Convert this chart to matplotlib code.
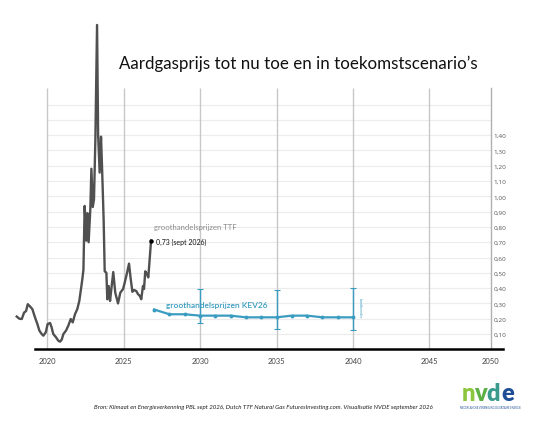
import numpy as np
import matplotlib.pyplot as plt

plt.rcParams['font.family'] = ['Lato', 'DejaVu Sans']

# historic wholesale price TTF (euro/m3)
ttf_year = [2018.02, 2018.19, 2018.35, 2018.5, 2018.63, 2018.74, 2018.89, 2019.04,
            2019.22, 2019.37, 2019.5, 2019.65, 2019.76, 2019.92, 2020.04, 2020.2,
            2020.3, 2020.41, 2020.59, 2020.74, 2020.85, 2020.96, 2021.07, 2021.24,
            2021.39, 2021.55, 2021.68, 2021.83, 2021.98, 2022.11, 2022.22, 2022.31,
            2022.38, 2022.46, 2022.57, 2022.64, 2022.72, 2022.83, 2022.9, 2022.99,
            2023.07, 2023.16, 2023.27, 2023.34, 2023.44, 2023.53, 2023.6, 2023.7,
            2023.77, 2023.88, 2023.94, 2024.03, 2024.12, 2024.2, 2024.33, 2024.46,
            2024.64, 2024.79, 2024.97, 2025.08, 2025.23, 2025.36, 2025.47, 2025.58,
            2025.69, 2025.84, 2025.95, 2026.06, 2026.16, 2026.27, 2026.34, 2026.42,
            2026.54, 2026.62, 2026.71, 2026.8]
ttf_price = [0.214, 0.200, 0.198, 0.240, 0.250, 0.295, 0.280, 0.263,
             0.207, 0.165, 0.122, 0.100, 0.089, 0.111, 0.165, 0.172,
             0.143, 0.100, 0.078, 0.056, 0.050, 0.063, 0.100, 0.122,
             0.154, 0.198, 0.176, 0.230, 0.263, 0.316, 0.394, 0.460,
             0.520, 0.937, 0.710, 0.890, 0.700, 0.916, 1.180, 0.930,
             0.980, 1.370, 2.120, 1.400, 1.155, 1.390, 1.180, 0.850,
             0.510, 0.500, 0.327, 0.414, 0.316, 0.390, 0.505, 0.370,
             0.300, 0.370, 0.394, 0.436, 0.500, 0.560, 0.460, 0.376,
             0.388, 0.380, 0.360, 0.350, 0.327, 0.414, 0.394, 0.510,
             0.490, 0.470, 0.590, 0.710]

# KEV26 scenario
kev_year = [2027, 2028, 2029, 2030, 2031, 2032, 2033, 2034, 2035, 2036, 2037, 2038, 2039, 2040]
kev_price = [0.26, 0.229, 0.229, 0.22, 0.22, 0.22, 0.209, 0.209, 0.209, 0.22, 0.22, 0.209, 0.209, 0.209]
band_year = [2030, 2035, 2040]
band_low = [0.17, 0.131, 0.126]
band_high = [0.397, 0.388, 0.403]

xtick_pos = [2020, 2025, 2030, 2035, 2040, 2045, 2049]
xtick_labels = ['2020', '2025', '2030', '2035', '2040', '2045', '2050']
ytick_vals = [0.1, 0.2, 0.3, 0.4, 0.5, 0.6, 0.7, 0.8, 0.9, 1.0, 1.1, 1.2, 1.3, 1.4]
ytick_labels = [('%.2f' % v).replace('.', ',') for v in ytick_vals]
grid_y = np.arange(0.1, 1.65, 0.1)

teal = '#3a9cc0'

fig = plt.figure(figsize=(5.39, 4.27), dpi=100)
ax = fig.add_axes([10/539, (427-350.3)/427, 520/539, 330.3/427])
ax.set_xlim(2017.58, 2051.57)
ax.set_ylim(0, 2.159)

for s in ['top', 'left', 'bottom']:
    ax.spines[s].set_visible(False)
ax.spines['right'].set_position(('data', 2049))
ax.spines['right'].set_bounds(0, 1.71)
ax.spines['right'].set_color('#b0b0b0')
ax.spines['right'].set_linewidth(1)

# grid
ax.hlines(grid_y, 2020, 2049, color='#ececec', lw=0.8, zorder=0)
ax.vlines(xtick_pos[:-1], 0, 1.71, color='#c8c8c8', lw=1, zorder=0)
ax.plot([2019.2, 2049.8], [0, 0], color='black', lw=1.8, clip_on=False, zorder=3)

ax.set_xticks(xtick_pos)
ax.set_xticklabels(xtick_labels, fontsize=5.5, color='#444444')
ax.tick_params(axis='x', length=0, pad=5.5)
ax.yaxis.tick_right()
ax.set_yticks(ytick_vals)
ax.set_yticklabels(ytick_labels, fontsize=4.6, color='#555555', family='Open Sans')
ax.tick_params(axis='y', length=0, pad=2)

# historic line
ax.plot(ttf_year, ttf_price, color='#505050', lw=1.7, clip_on=False, zorder=4)
ax.plot(ttf_year[-1], ttf_price[-1], 'o', color='black', ms=2.2, zorder=5)
ax.text(2027.0, 0.80, 'groothandelsprijzen TTF', fontsize=5.6, color='#8a8a8a', va='center')
ax.text(2027.15, 0.708, '0,73 (sept 2026)', fontsize=5, color='#111111', va='center')

# scenario
ax.plot(kev_year, kev_price, color=teal, lw=1.6, marker='o', ms=1.8, zorder=4)
ax.errorbar(band_year, [0.5*(a+b) for a, b in zip(band_low, band_high)],
            yerr=[[0.5*(b-a) for a, b in zip(band_low, band_high)]]*2,
            fmt='none', ecolor=teal, elinewidth=1, capsize=2.5, capthick=0.8, zorder=4)
ax.text(2027.8, 0.29, 'groothandelsprijzen KEV26', fontsize=6.0, color=teal,
        fontweight='semibold', va='center')
ax.text(2040.3, 0.276, 'bandbreedte', fontsize=2.6, color=teal, rotation=-90,
        va='center', ha='left')

fig.text(298/539, 1-64/427, 'Aardgasprijs tot nu toe en in toekomstscenario\u2019s',
         fontsize=12.2, ha='center', va='center', color='#111111')
fig.text(263/539, 1-407/427,
         'Bron: Klimaat en Energieverkenning PBL sept 2026, Dutch TTF Natural Gas FuturesInvesting.com. Visualisatie NVDE september 2026',
         fontsize=4.4, style='italic', ha='center', va='center', color='#222222')

# logo
logo = [('n', '#8cc63f', 462), ('v', '#5db044', 474), ('d', '#3a9a8c', 486), ('e', '#1f4e96', 501)]
for ch, c, xp in logo:
    fig.text(xp/539, 1-401/427, ch, fontsize=17, fontweight='heavy', color=c, ha='left', va='baseline')
fig.text(490/539, 1-408/427, 'NEDERLANDSE VERENIGING DUURZAME ENERGIE', fontsize=1.8,
         color='#1f4e96', ha='center', va='center')

fig.savefig('out.png', dpi=100)
